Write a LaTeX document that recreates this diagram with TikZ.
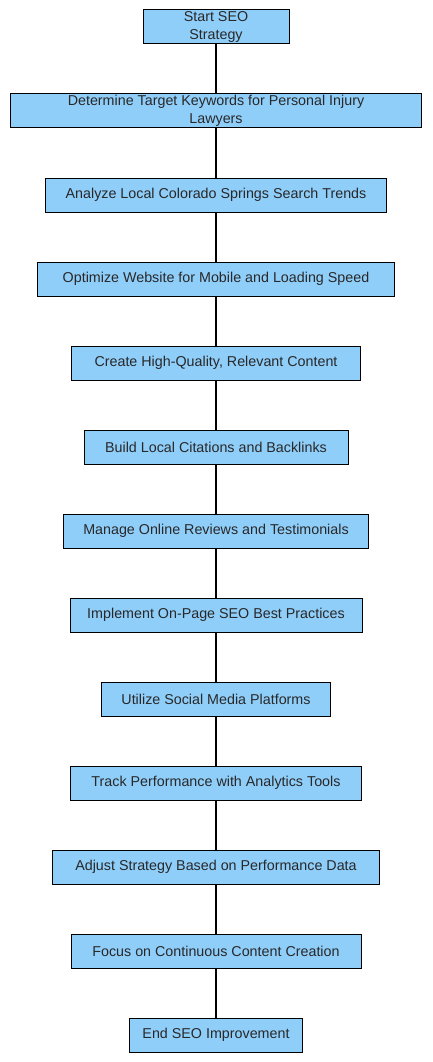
\documentclass[tikz,border=0pt]{standalone}
\usepackage{fontspec}
\setmainfont{Liberation Sans}
\usetikzlibrary{calc}

\definecolor{boxblue}{RGB}{144,206,250}
\definecolor{inkgray}{RGB}{40,40,40}

\begin{document}
\begin{tikzpicture}[x=1pt,y=1pt,
	stepbox/.style={draw=black,fill=boxblue,line width=1pt,
		minimum height=34pt,inner xsep=4pt,inner ysep=0pt,align=center,
		text=inkgray,font=\fontsize{14.3}{17.5}\selectfont},
	link/.style={line width=1.4pt}]

\useasboundingbox (0,0) rectangle (432,-1062);

% steps, top to bottom
\foreach \i/\w/\t in {
	1/146/{Start SEO\\Strategy},
	2/411/{Determine Target Keywords for Personal Injury\\Lawyers},
	3/341/{Analyze Local Colorado Springs Search Trends},
	4/357/{Optimize Website for Mobile and Loading Speed},
	5/289/{Create High-Quality, Relevant Content},
	6/264/{Build Local Citations and Backlinks},
	7/305/{Manage Online Reviews and Testimonials},
	8/292/{Implement On-Page SEO Best Practices},
	9/229/{Utilize Social Media Platforms},
	10/291/{Track Performance with Analytics Tools},
	11/327/{Adjust Strategy Based on Performance Data},
	12/290/{Focus on Continuous Content Creation},
	13/173/{End SEO Improvement}}{
	\node[stepbox,minimum width=\w pt] (s\i) at (216,{-27-84*(\i-1)}) {\t};
}

\foreach \i [evaluate=\i as \j using int(\i+1)] in {1,...,12}{
	\draw[link] (s\i) -- (s\j);
}

\end{tikzpicture}
\end{document}
